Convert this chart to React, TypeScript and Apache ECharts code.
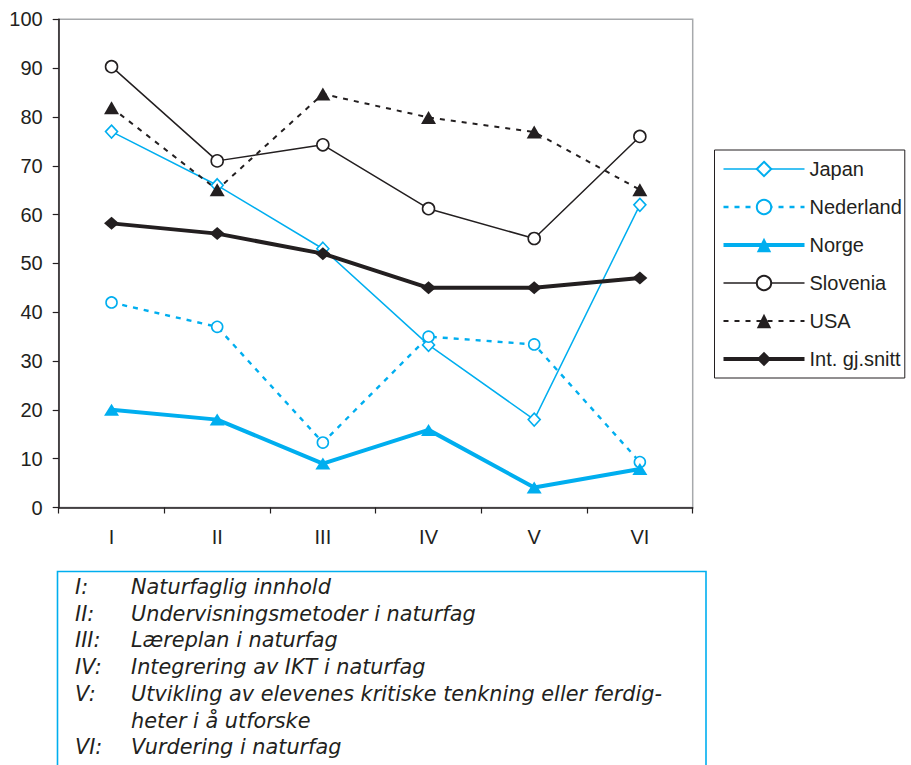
import React, { useEffect, useRef } from "react";
import * as echarts from "echarts";

const categories = ["I", "II", "III", "IV", "V", "VI"];
const japan = [77, 66, 53, 33.3, 18, 62];
const nederland = [42, 37, 13.3, 35, 33.4, 9.3];
const norge = [20, 18, 9, 15.9, 4.1, 7.9];
const slovenia = [90.3, 71, 74.3, 61.2, 55.1, 76];
const usa = [81.9, 65.1, 84.7, 79.9, 76.9, 65.1];
const intAvg = [58.2, 56.1, 52, 45, 45, 47];
const yMin = 0;
const yMax = 100;
const yInterval = 10;

const footLabels = ["I:", "II:", "III:", "IV:", "V:", "", "VI:"];
const footTexts = [
  "Naturfaglig innhold",
  "Undervisningsmetoder i naturfag",
  "Læreplan i naturfag",
  "Integrering av IKT i naturfag",
  "Utvikling av elevenes kritiske tenkning eller ferdig-",
  "heter i å utforske",
  "Vurdering i naturfag",
];

const CYAN = "#00aeef";
const DARK = "#231f20";
const FONT = "Liberation Sans, Arial, sans-serif";

export default function App() {
  const ref = useRef<HTMLDivElement>(null);
  useEffect(() => {
    if (!ref.current) return;
    const chart = echarts.init(ref.current, null, { renderer: "svg" });
    const lineY0 = 587;
    const lineStep = 26.7;
    const footFont = "italic 20.8px 'DejaVu Sans', sans-serif";
    const footGraphics: any[] = [
      {
        type: "rect",
        shape: { x: 57.5, y: 571.5, width: 648.5, height: 240 },
        style: { fill: "none", stroke: CYAN, lineWidth: 1.6 },
        silent: true,
      },
    ];
    footTexts.forEach((t, i) => {
      const y = lineY0 + i * lineStep;
      if (footLabels[i]) {
        footGraphics.push({
          type: "text",
          x: 75,
          y,
          style: { text: footLabels[i], fill: DARK, font: footFont, verticalAlign: "middle", align: "left" },
        });
      }
      footGraphics.push({
        type: "text",
        x: 131,
        y,
        style: { text: t, fill: DARK, font: footFont, verticalAlign: "middle", align: "left" },
      });
    });

    const mk = (
      name: string,
      data: number[],
      color: string,
      width: number,
      type: any,
      symbol: string,
      size: any,
      hollow: boolean
    ) => ({
      name,
      type: "line",
      data,
      symbol,
      symbolSize: size,
      showAllSymbol: true,
      lineStyle: { color, width, type },
      itemStyle: {
        color: hollow ? "#ffffff" : color,
        borderColor: color,
        borderWidth: hollow ? 1.6 : 0,
      },
      emphasis: { disabled: true },
    });

    const legendItem = (name: string, width: number, type: any, color: string) => ({
      name,
      lineStyle: { width, type, color },
    });

    chart.setOption({
      animation: false,
      textStyle: { fontFamily: FONT },
      grid: {
        left: 58.7,
        right: 911 - 692.7,
        top: 19.3,
        bottom: 765 - 507.5,
        show: true,
        borderColor: "#a7a9ac",
        borderWidth: 1.5,
        backgroundColor: "transparent",
      },
      legend: {
        orient: "vertical",
        left: 714.5,
        top: 150,
        padding: [9, 3, 9, 7],
        itemWidth: 81,
        itemHeight: 18,
        itemGap: 18,
        borderColor: DARK,
        borderWidth: 1,
        textStyle: { fontSize: 20, lineHeight: 20, color: DARK, fontFamily: FONT },
        data: [
          legendItem("Japan", 1.5, "solid", CYAN),
          legendItem("Nederland", 2.4, [5, 6], CYAN),
          legendItem("Norge", 4, "solid", CYAN),
          legendItem("Slovenia", 1.5, "solid", DARK),
          legendItem("USA", 2, [5, 6], DARK),
          legendItem("Int. gj.snitt", 4, "solid", DARK),
        ],
      },
      xAxis: {
        type: "category",
        data: categories,
        boundaryGap: true,
        axisLine: { lineStyle: { color: DARK, width: 1.5 } },
        axisTick: { show: true, length: 6, lineStyle: { color: DARK, width: 1.2 } },
        axisLabel: { color: DARK, fontSize: 20, margin: 19, fontFamily: FONT },
        splitLine: { show: false },
      },
      yAxis: {
        type: "value",
        min: yMin,
        max: yMax,
        interval: yInterval,
        axisLine: { show: true, lineStyle: { color: DARK, width: 1.5 } },
        axisTick: { show: true, length: 6, lineStyle: { color: DARK, width: 1.2 } },
        axisLabel: { color: DARK, fontSize: 20, margin: 16, fontFamily: FONT },
        splitLine: { show: false },
      },
      series: [
        mk("Japan", japan, CYAN, 1.5, "solid", "diamond", [12, 13], true),
        mk("Nederland", nederland, CYAN, 2.4, [5, 6], "circle", 11, true),
        mk("Norge", norge, CYAN, 4, "solid", "triangle", [15, 12], false),
        mk("Slovenia", slovenia, DARK, 1.5, "solid", "circle", 12, true),
        mk("USA", usa, DARK, 2, [5, 6], "triangle", [15, 13], false),
        mk("Int. gj.snitt", intAvg, DARK, 4, "solid", "diamond", [15, 13], false),
      ],
      graphic: footGraphics,
    });
    return () => chart.dispose();
  }, []);
  return (
    <div
      ref={ref}
      style={{ position: "absolute", left: 0, top: 0, width: 911, height: 765, background: "#fff" }}
    />
  );
}
